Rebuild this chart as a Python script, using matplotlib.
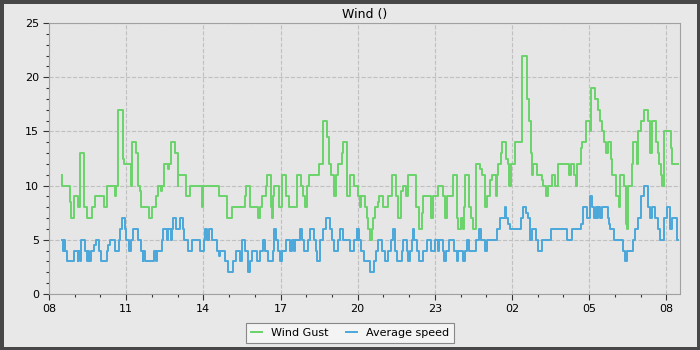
import matplotlib as mpl
mpl.use('Agg')
import matplotlib.pyplot as plt
from matplotlib.ticker import MultipleLocator, FuncFormatter

# hours after 08:00 where each reading starts, and the reading itself
gust_hours = [0.49, 0.52, 0.82, 0.86, 0.97, 1.12, 1.14, 1.22, 1.37, 1.49, 1.66, 1.79,
              2.14, 2.24, 2.57, 2.61, 2.69, 2.88, 2.92, 3.19, 3.23, 3.40, 3.46, 3.52,
              3.58, 3.89, 3.99, 4.16, 4.22, 4.35, 4.39, 4.48, 4.63, 4.65, 4.73, 4.90,
              5.00, 5.03, 5.33, 5.48, 5.93, 5.99, 6.61, 6.91, 7.10, 7.62, 7.66, 7.81,
              8.14, 8.20, 8.29, 8.44, 8.49, 8.62, 8.65, 8.70, 8.76, 8.94, 9.05, 9.21,
              9.34, 9.65, 9.79, 9.86, 9.95, 10.02, 10.11, 10.51, 10.66, 10.82, 10.89, 10.96,
              11.09, 11.15, 11.22, 11.40, 11.44, 11.57, 11.70, 11.86, 12.03, 12.09, 12.13, 12.29,
              12.35, 12.41, 12.48, 12.55, 12.61, 12.67, 12.78, 12.84, 13.00, 13.19, 13.35, 13.48,
              13.56, 13.69, 13.75, 13.87, 13.97, 14.27, 14.40, 14.49, 14.55, 14.85, 14.94, 15.11,
              15.33, 15.40, 15.46, 15.70, 15.85, 15.91, 16.02, 16.08, 16.13, 16.17, 16.33, 16.41,
              16.47, 16.59, 16.76, 16.82, 16.95, 17.04, 17.15, 17.21, 17.38, 17.43, 17.47, 17.56,
              17.60, 17.77, 17.83, 17.90, 17.95, 18.12, 18.38, 18.57, 18.66, 18.73, 18.77, 18.83,
              18.96, 19.16, 19.22, 19.32, 19.41, 19.55, 19.67, 19.79, 20.23, 20.28, 20.42, 20.49,
              20.53, 20.67, 20.74, 20.87, 21.03, 21.07, 21.23, 21.33, 21.42, 21.49, 21.58, 21.65,
              21.72, 21.85, 21.90, 22.03, 22.14, 22.20, 22.37, 22.42, 22.47, 22.52, 22.66, 22.72,
              22.85, 22.91, 23.02, 23.12, 23.28, 23.37, 23.44, 23.59, 23.67, 23.73, 23.79, 23.85,
              23.92, 24.18, 24.23, 24.47]
gust_values = [11, 10, 8.5, 7, 9, 8.5, 8, 13, 8, 7, 8, 9,
               8, 10, 9, 10, 17, 12.5, 12, 10, 14, 13, 10, 9.5,
               8, 7, 8, 9, 10, 9.5, 10, 12, 11.5, 12, 14, 13,
               10, 11, 9, 10, 8, 10, 9, 7, 8, 9, 10, 8,
               7, 8, 9, 10, 11, 8, 7, 9, 10, 8, 11, 9,
               8, 11, 10, 9, 8, 10, 11, 12, 16, 14.5, 12, 11,
               9, 11, 12, 13, 14, 9, 11, 10, 9, 8, 9, 8,
               7, 6, 5, 6, 7, 8, 8.5, 9, 8, 9, 11, 9,
               7, 9.5, 10, 9, 11, 8, 6, 7.5, 9, 7, 9, 10,
               9, 7, 9, 11, 7, 6, 7, 6, 8, 11, 8, 7,
               6, 12, 11.5, 11, 8, 9, 10.5, 11, 9, 11, 12, 13,
               14, 12.5, 12, 10, 12, 14, 22, 18, 16, 13, 11, 12,
               11, 10.5, 10, 9, 10, 11, 10, 12, 11, 12, 11, 10,
               12, 13.5, 14, 16, 15, 19, 18, 17, 16, 15, 14, 13,
               14, 12.5, 11, 9, 8, 11, 10, 6.5, 6, 10, 12, 14,
               12, 15, 16, 17, 16, 13, 16, 14, 13, 12, 11, 10,
               15, 13.5, 12, 12]

avg_hours = [0.49, 0.54, 0.58, 0.62, 0.69, 0.98, 1.12, 1.14, 1.21, 1.24, 1.40, 1.46,
             1.52, 1.56, 1.62, 1.76, 1.82, 1.94, 2.02, 2.24, 2.31, 2.37, 2.57, 2.73,
             2.76, 2.83, 2.95, 2.99, 3.11, 3.19, 3.28, 3.45, 3.58, 3.64, 3.67, 3.73,
             4.09, 4.16, 4.19, 4.38, 4.44, 4.57, 4.64, 4.73, 4.77, 4.83, 4.93, 5.09,
             5.20, 5.25, 5.39, 5.57, 5.87, 6.03, 6.08, 6.14, 6.22, 6.35, 6.54, 6.61,
             6.65, 6.84, 6.95, 7.17, 7.27, 7.43, 7.52, 7.62, 7.73, 7.75, 7.82, 7.88,
             8.08, 8.20, 8.33, 8.40, 8.53, 8.72, 8.76, 8.82, 8.89, 8.98, 9.05, 9.20,
             9.37, 9.45, 9.51, 9.56, 9.76, 9.85, 9.93, 10.08, 10.15, 10.32, 10.38, 10.41,
             10.54, 10.66, 10.77, 10.92, 10.99, 11.08, 11.25, 11.31, 11.44, 11.70, 11.86, 11.96,
             11.99, 12.03, 12.07, 12.13, 12.26, 12.48, 12.65, 12.70, 12.78, 12.93, 13.06, 13.19,
             13.30, 13.39, 13.45, 13.52, 13.71, 13.78, 13.91, 13.95, 14.04, 14.10, 14.14, 14.18,
             14.30, 14.40, 14.55, 14.69, 14.85, 15.01, 15.11, 15.18, 15.33, 15.37, 15.42, 15.56,
             15.76, 15.85, 15.91, 16.11, 16.17, 16.24, 16.34, 16.60, 16.73, 16.78, 16.95, 17.04,
             17.43, 17.54, 17.71, 17.75, 17.85, 17.92, 18.35, 18.44, 18.55, 18.63, 18.70, 18.77,
             18.94, 19.02, 19.16, 19.51, 20.15, 20.32, 20.68, 20.77, 20.90, 21.03, 21.10, 21.20,
             21.25, 21.30, 21.36, 21.42, 21.49, 21.72, 21.77, 21.81, 21.98, 22.33, 22.40, 22.48,
             22.72, 22.79, 22.91, 23.02, 23.12, 23.30, 23.37, 23.46, 23.56, 23.69, 23.75, 23.92,
             24.01, 24.14, 24.23, 24.41, 24.47]
avg_values = [5, 4, 5, 4, 3, 4, 3, 4, 3, 5, 4, 3,
              4, 3, 4, 4.5, 5, 4, 3, 4, 4.5, 5, 4, 5,
              6, 7, 6, 5, 4, 5, 6, 5, 4, 3, 4, 3,
              4, 3, 4, 5, 6, 5, 6, 5, 6, 7, 6, 7,
              6, 5, 4, 5, 4, 5, 6, 5, 6, 5, 4, 3.5,
              4, 3, 2, 3, 4, 3, 5, 4, 3, 2, 3, 4,
              3, 4, 5, 4, 3, 4, 6, 5, 4, 3, 4, 5,
              4, 5, 4, 5, 6, 5, 4, 5, 6, 5, 4, 3,
              5, 6, 7, 6, 5, 4, 5, 6, 5, 4, 5, 6,
              5, 6, 5, 4, 3, 2, 3, 4, 5, 4, 3, 4,
              5, 6, 4, 3, 4, 5, 4, 3, 4, 5, 6, 5,
              4, 3, 4, 5, 4, 5, 4, 5, 4, 3, 4, 5,
              4, 3, 4, 3, 4, 5, 4, 5, 6, 5, 4, 5,
              6, 7, 8, 7, 6.5, 6, 7, 8, 7.5, 7, 5, 6,
              5, 4, 5, 6, 5, 6, 6.5, 8, 7, 9, 8, 7,
              8, 7, 8, 7, 8, 7, 6.5, 6, 5, 4, 3, 4,
              5, 6, 7, 9, 10, 8, 7, 8, 7, 6, 5, 7,
              8, 6, 7, 5, 5]

series_names = ["Wind Gust", "Average speed"]
title = "Wind ()"

gust_color = '#6ad46a'
avg_color = '#4aa8da'

fig = plt.figure(figsize=(7, 3.5), dpi=100)
fig.patch.set_facecolor('#e8e8e8')
fig.patch.set_edgecolor('#474747')
fig.patch.set_linewidth(5)

ax = fig.add_axes([0.07, 0.16, 0.9014, 0.774])
ax.set_facecolor('#e6e6e6')

ax.step(gust_hours, gust_values, where='post', color=gust_color, lw=1.4, label=series_names[0])
ax.step(avg_hours, avg_values, where='post', color=avg_color, lw=1.4, label=series_names[1])

ax.set_xlim(0, 24.53)
ax.set_ylim(0, 25)
ax.xaxis.set_major_locator(MultipleLocator(3))
ax.xaxis.set_minor_locator(MultipleLocator(1))
ax.xaxis.set_major_formatter(FuncFormatter(lambda h, pos: "%02d" % ((int(round(h)) + 8) % 24)))
ax.yaxis.set_major_locator(MultipleLocator(5))
ax.yaxis.set_minor_locator(MultipleLocator(1))

ax.grid(True, which='major', color='#c0c0c0', linestyle='--', linewidth=0.8)
for s in ax.spines.values():
    s.set_color('#a0a0a0')
ax.tick_params(which='major', length=4, width=0.8, color='#333333', labelsize=8, pad=3)
ax.tick_params(which='minor', length=2.5, width=0.8, color='#333333')

ax.set_title(title, fontsize=9, pad=4)

leg = fig.legend(loc='lower center', bbox_to_anchor=(0.5, 0.005), ncol=2, fontsize=8,
                 handlelength=1.0, handletextpad=0.8, columnspacing=1.6,
                 fancybox=False, framealpha=1, borderpad=0.45)
leg.get_frame().set_facecolor('#f4f4f4')
leg.get_frame().set_edgecolor('#888888')
leg.get_frame().set_linewidth(0.8)

plt.savefig('out.png', dpi=100, facecolor=fig.get_facecolor(), edgecolor=fig.get_edgecolor())
